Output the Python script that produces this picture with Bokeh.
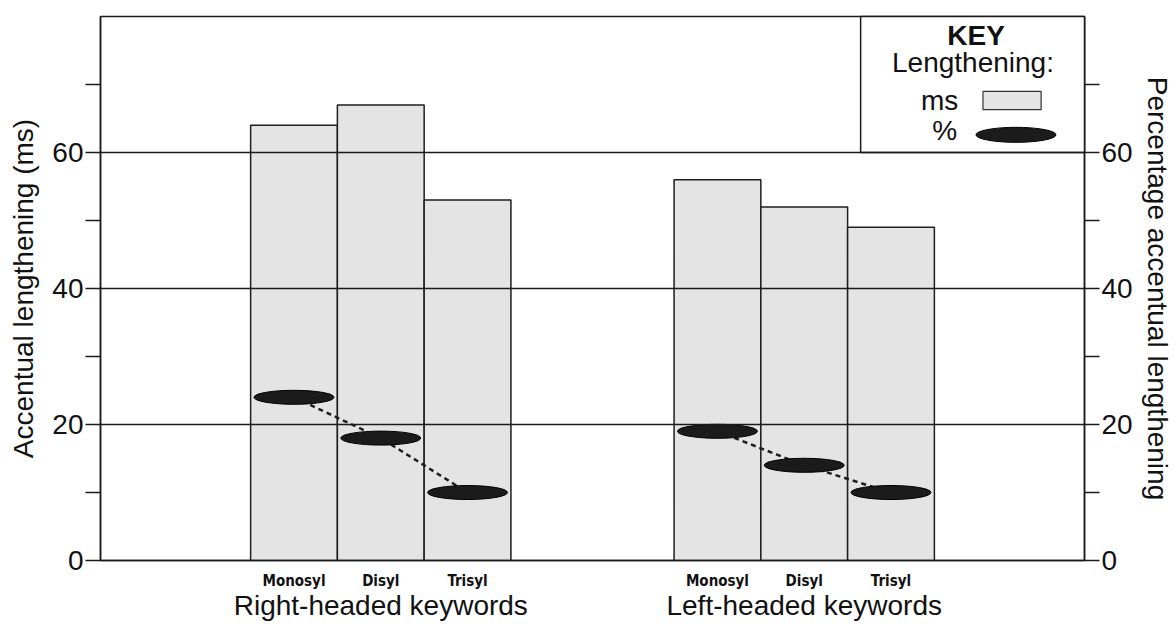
from bokeh.plotting import figure
from bokeh.models import (FactorRange, Range1d, LinearAxis, CategoricalAxis, FixedTicker,
                          ColumnDataSource)
from bokeh.core.properties import value
from bokeh.embed import file_html
from bokeh.resources import INLINE

# ---- data ----
groups = ["Right-headed keywords", "Left-headed keywords"]
syllables = ["Monosyl", "Disyl", "Trisyl"]
ms_right = [64, 67, 53]
ms_left = [56, 52, 49]
pct_right = [24, 18, 10]
pct_left = [19, 14, 10]
y_ticks = [0, 20, 40, 60]
y_minor = [10, 30, 50, 70]

factors = [(g, s) for g in groups for s in syllables]
ms_all = ms_right + ms_left

FONT = "Liberation Sans"
NARROW = "'DejaVu Sans Condensed', 'Liberation Sans Narrow', 'DejaVu Sans', sans-serif"
BIG = "28px"

GROUP_PAD, RANGE_PAD = 1.88, 1.73
n = len(syllables)

p = figure(width=1176, height=627, output_backend="svg", toolbar_location=None,
           x_range=FactorRange(factors=factors, group_padding=GROUP_PAD, range_padding=RANGE_PAD,
                               range_padding_units="absolute"),
           y_range=Range1d(0, 80), min_border=0)
p.min_border_left = 100
p.min_border_right = 92
p.min_border_top = 16
p.min_border_bottom = 67
p.outline_line_color = "#1a1a1a"
p.outline_line_width = 1.5
p.background_fill_color = "white"
p.border_fill_color = "white"
p.extra_y_ranges = {"pct": Range1d(0, 80)}
# a groups-only range aligned with the group centres, used for the group titles
p.extra_x_ranges = {"grp": FactorRange(factors=groups, factor_padding=n + GROUP_PAD - 1,
                                       range_padding=RANGE_PAD + (n - 1) / 2,
                                       range_padding_units="absolute")}

# bars
src = ColumnDataSource(dict(x=factors, ms=ms_all))
p.vbar(x="x", top="ms", width=1.0, source=src, fill_color="#e4e4e4",
       line_color="#1e1e1e", line_width=1.5)

# percentage series: dashed connectors + ellipses
for g, vals in zip(groups, [pct_right, pct_left]):
    xs = [(g, s) for s in syllables]
    p.line(x=xs, y=vals, y_range_name="pct", line_color="#1e1e1e", line_width=2.5,
           line_dash="5 4")
    p.ellipse(x=xs, y=vals, y_range_name="pct", width=80, height=14,
              width_units="screen", height_units="screen",
              fill_color="#1b1b1b", line_color="#000000", line_width=1)

# grid
p.xgrid.visible = False
p.ygrid.ticker = FixedTicker(ticks=y_ticks)
p.ygrid.grid_line_color = "#1a1a1a"
p.ygrid.grid_line_width = 1.5
p.ygrid.level = "overlay"


def style_y(ax):
    ax.axis_line_color = "#1a1a1a"
    ax.axis_line_width = 1.5
    ax.major_tick_out = 15
    ax.major_tick_in = 0
    ax.minor_tick_out = 15
    ax.minor_tick_in = 0
    ax.major_tick_line_color = "#1a1a1a"
    ax.minor_tick_line_color = "#1a1a1a"
    ax.major_tick_line_width = 1.5
    ax.minor_tick_line_width = 1.5
    ax.major_label_text_font = FONT
    ax.major_label_text_font_size = BIG
    ax.major_label_text_color = "#111111"
    ax.major_label_standoff = 2
    ax.axis_label_text_font = FONT
    ax.axis_label_text_font_size = BIG
    ax.axis_label_text_font_style = "normal"
    ax.axis_label_text_color = "#111111"
    ax.axis_label_standoff = 10


ya = p.yaxis[0]
ya.ticker = FixedTicker(ticks=y_ticks, minor_ticks=y_minor)
ya.axis_label = "Accentual lengthening (ms)"
style_y(ya)

ra = LinearAxis(y_range_name="pct", ticker=FixedTicker(ticks=y_ticks, minor_ticks=y_minor),
                axis_label="Percentage accentual lengthening")
style_y(ra)
ra.axis_label_standoff = 6
p.add_layout(ra, "right")

# bottom categorical axis: syllable labels
xa = p.xaxis[0]
xa.axis_line_color = "#1a1a1a"
xa.axis_line_width = 1.5
xa.major_tick_line_color = None
xa.minor_tick_line_color = None
xa.major_tick_out = 0
xa.major_label_text_font = NARROW
xa.major_label_text_font_style = "bold"
xa.major_label_text_font_size = "15px"
xa.major_label_text_color = "#111111"
xa.major_label_standoff = 11
xa.group_text_color = None
xa.group_text_font_size = "1px"
xa.separator_line_color = None

# second bottom axis: group titles
ga = CategoricalAxis(x_range_name="grp")
ga.axis_line_color = None
ga.major_tick_line_color = None
ga.minor_tick_line_color = None
ga.major_tick_out = 0
ga.major_tick_in = 0
ga.major_label_text_font = FONT
ga.major_label_text_font_size = BIG
ga.major_label_text_color = "#111111"
ga.major_label_standoff = -3
p.add_layout(ga, "below")

# ---- KEY box: x positioned by offsets from the last category ----
g_last, s_last = groups[-1], syllables[-1]


def kx(off):
    return (g_last, s_last, off)


p.quad(left=[kx(-0.35)], right=[kx(2.23)], bottom=[60], top=[80],
       fill_color="white", line_color="#1a1a1a", line_width=1.5, level="overlay")
key_src = ColumnDataSource(dict(
    x=[kx(0.98), kx(0.945), kx(0.56), kx(0.62)],
    y=[77.2, 73.2, 67.6, 63.3],
    t=["KEY", "Lengthening:", "ms", "%"],
    st=["bold", "normal", "normal", "normal"],
))
p.text(x="x", y="y", text="t", source=key_src, text_font=value(FONT),
       text_font_size=BIG, text_font_style="st", text_align="center",
       text_baseline="middle", text_color="#111111", level="overlay")
p.quad(left=[kx(1.06)], right=[kx(1.73)], bottom=[66.3], top=[69.0],
       fill_color="#e4e4e4", line_color="#333333", line_width=1.2, level="overlay")
p.ellipse(x=[kx(1.44)], y=[62.6], width=80, height=15,
          width_units="screen", height_units="screen", fill_color="#1b1b1b",
          line_color="#000000", level="overlay")

open("out.html", "w").write(file_html(p, INLINE))
